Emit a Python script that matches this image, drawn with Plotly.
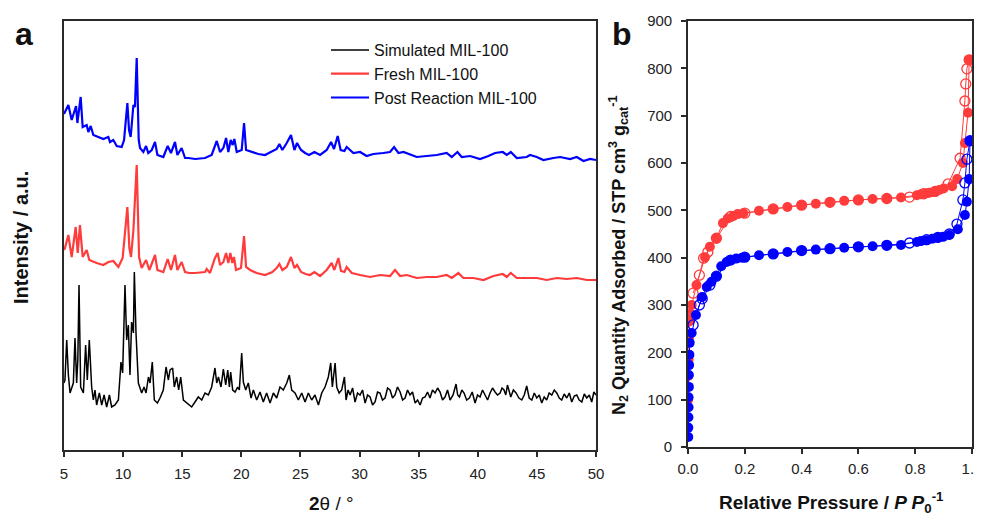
import plotly.graph_objects as go

# ---- panel a : XRD patterns (2theta, intensity in arbitrary units) ----
sim_2t = [5.0, 5.08, 5.23, 5.37, 5.51, 5.65, 5.79, 5.93, 6.07, 6.17, 6.27, 6.41, 6.52, 6.64, 6.83, 6.97, 7.14, 7.34,
          7.48, 7.62, 7.76, 7.99, 8.19, 8.39, 8.61, 8.84, 9.03, 9.31, 9.6, 9.82, 9.96, 10.16, 10.3, 10.44, 10.58,
          10.72, 10.87, 10.95, 11.09, 11.29, 11.57, 11.77, 11.94, 12.14, 12.28, 12.47, 12.64, 12.9, 13.12, 13.4,
          13.63, 13.83, 13.97, 14.19, 14.33, 14.53, 14.7, 14.87, 15.1, 15.38, 15.8, 16.08, 16.36, 16.65, 16.93,
          17.21, 17.49, 17.77, 17.92, 18.06, 18.28, 18.48, 18.68, 18.85, 18.99, 19.1, 19.27, 19.47, 19.69, 19.83,
          20.03, 20.17, 20.37, 20.59, 20.82, 21.02, 21.3, 21.58, 21.86, 22.14, 22.43, 22.71, 22.99, 23.27, 23.55,
          23.84, 24.06, 24.26, 24.54, 24.82, 25.11, 25.39, 25.67, 25.95, 26.23, 26.52, 26.8, 27.08, 27.36, 27.56,
          27.7, 27.93, 28.07, 28.27, 28.49, 28.72, 28.86, 29.03, 29.2, 29.41, 29.62, 29.83, 30.04, 30.25, 30.47,
          30.68, 30.89, 31.1, 31.31, 31.52, 31.73, 31.94, 32.16, 32.37, 32.58, 32.79, 33.0, 33.21, 33.43, 33.64,
          33.85, 34.06, 34.27, 34.48, 34.7, 34.91, 35.12, 35.33, 35.54, 35.75, 35.96, 36.17, 36.39, 36.6, 36.81,
          37.02, 37.23, 37.44, 37.66, 37.91, 38.16, 38.3, 38.45, 38.65, 38.84, 39.06, 39.29, 39.53, 39.77, 39.98,
          40.19, 40.4, 40.62, 40.83, 41.04, 41.25, 41.46, 41.67, 41.89, 42.05, 42.22, 42.37, 42.51, 42.65, 42.79,
          43.01, 43.24, 43.48, 43.72, 43.93, 44.14, 44.35, 44.57, 44.78, 44.99, 45.2, 45.41, 45.62, 45.83, 46.04,
          46.26, 46.47, 46.68, 46.89, 47.1, 47.31, 47.53, 47.74, 47.95, 48.16, 48.37, 48.58, 48.8, 49.01, 49.22,
          49.43, 49.64, 49.82, 50.0]
sim_int = [67, 70, 110, 75, 57, 62, 67, 112, 67, 90, 165, 63, 60, 57, 105, 70, 110, 63,
           50, 60, 45, 57, 45, 55, 43, 55, 43, 45, 50, 88, 77, 165, 110, 125, 75,
           128, 117, 178, 117, 67, 57, 63, 57, 73, 67, 88, 50, 47, 52, 60,
           83, 70, 80, 82, 63, 73, 60, 73, 50, 47, 43, 48, 53, 50, 57,
           55, 63, 82, 67, 73, 63, 81, 65, 80, 63, 78, 60, 58, 63, 60,
           97, 68, 60, 67, 52, 60, 50, 58, 48, 57, 47, 57, 52, 63, 60,
           67, 75, 60, 57, 50, 57, 48, 57, 50, 55, 45, 57, 63, 73, 87,
           63, 87, 63, 57, 60, 73, 50, 60, 55, 62, 48, 57, 55, 60, 47,
           55, 53, 45, 48, 58, 57, 50, 52, 62, 60, 52, 55, 63, 58, 50,
           52, 60, 55, 58, 47, 50, 45, 52, 53, 58, 52, 60, 57, 62, 58,
           50, 53, 60, 50, 55, 66, 55, 53, 60, 57, 50, 52, 58, 47, 55,
           53, 60, 55, 50, 57, 62, 58, 55, 57, 62, 60, 55, 65, 58, 53,
           60, 57, 52, 50, 55, 64, 52, 50, 57, 52, 55, 47, 53, 50, 57,
           55, 60, 57, 52, 50, 56, 52, 57, 48, 54, 55, 50, 48, 56, 52,
           55, 48, 58, 55]

fresh_2t = [5.0, 5.08, 5.37, 5.65, 5.99, 6.16, 6.35, 6.58, 6.92, 7.14, 7.76, 8.33, 8.75, 9.17, 9.6, 9.96, 10.36,
            10.53, 10.67, 10.87, 11.15, 11.35, 11.57, 11.94, 12.22, 12.7, 12.9, 13.4, 13.77, 14.05, 14.39, 14.59,
            14.95, 15.24, 15.6, 16.08, 16.93, 17.07, 17.35, 17.77, 18.0, 18.2, 18.48, 18.71, 18.9, 19.07, 19.24,
            19.38, 19.55, 19.97, 20.23, 20.4, 20.74, 21.3, 22.0, 22.62, 22.99, 23.22, 23.47, 23.84, 24.2, 24.49,
            24.71, 25.05, 25.44, 25.81, 26.18, 26.66, 27.22, 27.64, 27.87, 28.21, 28.43, 28.72, 28.91, 29.34,
            30.04, 30.89, 31.73, 32.58, 33.0, 33.43, 33.99, 34.84, 35.68, 36.53, 37.37, 37.8, 38.36, 38.78, 39.63,
            40.48, 41.32, 42.11, 42.45, 42.79, 43.3, 44.14, 44.99, 45.83, 46.68, 47.53, 48.37, 49.22, 50.0]
fresh_int = [200, 202, 215, 193, 223, 197, 225, 193, 200, 190, 187, 185, 188, 189, 183, 192, 243,
             202, 193, 220, 285, 193, 182, 190, 180, 195, 180, 178, 191, 180, 195, 180,
             188, 178, 177, 177, 178, 181, 177, 192, 197, 185, 188, 197, 187, 197, 187,
             193, 180, 182, 214, 183, 180, 177, 175, 178, 182, 186, 180, 183, 193, 182,
             185, 178, 176, 175, 178, 174, 180, 187, 180, 192, 179, 178, 183, 177,
             175, 173, 175, 174, 180, 174, 175, 172, 173, 173, 175, 172, 177, 172, 172,
             170, 174, 176, 173, 177, 172, 172, 172, 170, 172, 171, 172, 170, 170]

post_2t = [5.0, 5.08, 5.37, 5.65, 6.02, 6.13, 6.41, 6.58, 6.92, 7.06, 7.26, 7.48, 7.9, 8.33, 8.75, 8.89, 9.17, 9.46,
           9.88, 10.08, 10.36, 10.5, 10.64, 10.87, 11.0, 11.15, 11.32, 11.43, 11.71, 11.94, 12.13, 12.42, 12.7,
           12.9, 13.4, 13.77, 14.05, 14.39, 14.59, 14.95, 15.24, 15.52, 16.1, 16.93, 17.49, 17.92, 18.2, 18.48,
           18.71, 18.9, 19.1, 19.27, 19.41, 19.61, 20.03, 20.23, 20.4, 20.88, 21.44, 22.0, 22.57, 22.99, 23.22,
           23.47, 23.84, 24.2, 24.49, 24.71, 25.05, 25.39, 25.73, 26.18, 26.66, 27.22, 27.59, 27.84, 28.15, 28.4,
           28.72, 28.91, 29.48, 30.04, 30.6, 31.17, 32.0, 32.58, 32.92, 33.29, 33.71, 34.13, 34.84, 35.68, 36.53,
           37.37, 37.8, 38.28, 38.64, 39.35, 40.19, 40.9, 41.46, 42.11, 42.45, 42.79, 43.3, 44.14, 44.42, 44.99,
           45.55, 46.4, 46.96, 47.81, 48.37, 48.94, 49.5, 50.0]
post_int = [336, 338, 345, 330, 344, 327, 353, 323, 325, 318, 324, 315, 313, 311, 313, 308, 310, 304,
            303, 310, 347, 320, 313, 345, 343, 392, 310, 302, 298, 304, 297, 300, 308,
            295, 293, 304, 297, 308, 295, 302, 292, 292, 291, 292, 295, 309, 298, 302,
            312, 298, 310, 305, 311, 298, 300, 327, 300, 298, 296, 295, 298, 301, 306,
            300, 307, 315, 300, 307, 300, 297, 295, 298, 295, 300, 308, 301, 314, 300,
            299, 303, 297, 298, 294, 296, 297, 298, 303, 297, 298, 296, 293, 294, 295,
            297, 293, 298, 293, 294, 291, 294, 297, 298, 295, 298, 292, 293, 295, 293,
            290, 292, 293, 291, 293, 289, 291, 290]

# ---- panel b : N2 isotherms (relative pressure, cm3 STP g-1) ----
fresh_ads_p = [0.0005, 0.001, 0.002, 0.003, 0.005, 0.008, 0.013, 0.03, 0.06, 0.077, 0.1, 0.123, 0.14, 0.16, 0.175,
               0.195, 0.25, 0.3, 0.35, 0.4, 0.45, 0.5, 0.55, 0.6, 0.65, 0.7, 0.75, 0.806, 0.82, 0.84, 0.85, 0.87,
               0.885, 0.9, 0.93, 0.948, 0.968, 0.975, 0.986, 0.99]
fresh_ads_v = [100, 150, 185, 230, 265, 282, 300, 342, 401, 423, 441, 473, 483, 488, 492,
               494, 499, 503, 507, 511, 514, 517, 520, 522, 524, 525, 527, 532, 534, 536, 537, 539,
               543, 546, 551, 566, 600, 642, 706, 818]
fresh_des_p = [0.99, 0.982, 0.978, 0.975, 0.958, 0.916, 0.87, 0.83, 0.78, 0.7, 0.6, 0.5, 0.4, 0.3, 0.2, 0.15,
               0.1, 0.07, 0.055, 0.04, 0.018]
fresh_des_v = [818, 799, 767, 731, 610, 556, 540, 535, 528, 525, 522, 517, 511, 503, 494, 487,
               441, 412, 399, 363, 325]

post_ads_p = [0.001, 0.001, 0.0015, 0.002, 0.002, 0.003, 0.003, 0.004, 0.005, 0.006, 0.013, 0.028, 0.05, 0.066,
              0.083, 0.1, 0.117, 0.136, 0.15, 0.17, 0.19, 0.2, 0.25, 0.3, 0.35, 0.4, 0.45, 0.5, 0.55, 0.6, 0.65,
              0.7, 0.75, 0.806, 0.82, 0.84, 0.86, 0.88, 0.898, 0.92, 0.95, 0.975, 0.982, 0.99, 0.993]
post_ads_v = [21, 41, 63, 84, 105, 127, 152, 173, 195, 220, 241, 279, 317, 338,
              349, 361, 382, 391, 395, 398, 400, 401, 405, 408, 412, 415, 417, 419, 421, 423, 424,
              426, 427, 433, 435, 437, 440, 442, 444, 448, 460, 490, 518, 566, 647]
post_des_p = [0.993, 0.982, 0.975, 0.968, 0.947, 0.92, 0.88, 0.84, 0.78, 0.7, 0.6, 0.5, 0.4, 0.3, 0.2, 0.15,
              0.1, 0.077, 0.05, 0.04, 0.018]
post_des_v = [647, 608, 558, 522, 471, 450, 443, 438, 431, 426, 423, 419, 415, 408, 401, 395,
              361, 342, 313, 300, 258]

p_ticks = [0.0, 0.2, 0.4, 0.6, 0.8, 1.0]

RED = '#FF3B3B'
BLUE = '#0000FF'
AX = '#2a2a2a'
FONT = 'Arial, Liberation Sans, sans-serif'

fig = go.Figure()

# panel a
fig.add_trace(go.Scatter(x=sim_2t, y=sim_int, mode='lines', name='Simulated MIL-100',
                         line=dict(color='black', width=1.5), xaxis='x', yaxis='y'))
fig.add_trace(go.Scatter(x=fresh_2t, y=fresh_int, mode='lines', name='Fresh MIL-100',
                         line=dict(color=RED, width=2.2), xaxis='x', yaxis='y'))
fig.add_trace(go.Scatter(x=post_2t, y=post_int, mode='lines', name='Post Reaction MIL-100',
                         line=dict(color=BLUE, width=2.2), xaxis='x', yaxis='y'))

# panel b
mk_open = dict(symbol='circle-open', size=10, line=dict(width=1.3))
fig.add_trace(go.Scatter(x=fresh_des_p, y=fresh_des_v, mode='lines+markers', showlegend=False,
                         line=dict(color=RED, width=1), marker=dict(color=RED, **mk_open),
                         xaxis='x2', yaxis='y2'))
fig.add_trace(go.Scatter(x=fresh_ads_p, y=fresh_ads_v, mode='lines+markers', showlegend=False,
                         line=dict(color=RED, width=1), marker=dict(color=RED, size=10, symbol='circle'),
                         xaxis='x2', yaxis='y2'))
fig.add_trace(go.Scatter(x=post_des_p, y=post_des_v, mode='lines+markers', showlegend=False,
                         line=dict(color=BLUE, width=1), marker=dict(color=BLUE, **mk_open),
                         xaxis='x2', yaxis='y2'))
fig.add_trace(go.Scatter(x=post_ads_p, y=post_ads_v, mode='lines+markers', showlegend=False,
                         line=dict(color=BLUE, width=1), marker=dict(color=BLUE, size=10, symbol='circle'),
                         xaxis='x2', yaxis='y2'))

# the page body adds an 8px margin, so the figure is drawn 8px smaller and shifted
OFF = 8
W, H = 982 - OFF, 516 - OFF

def px(x):
    return (x - OFF) / W

def py(y):
    return 1 - (y - OFF) / H

axis_common = dict(showline=True, linecolor=AX, linewidth=1.6, mirror=True, showgrid=False, zeroline=False,
                   tickfont=dict(family=FONT, size=15, color='#222'), ticks='outside', tickcolor=AX,
                   tickwidth=1.6, ticklen=5, automargin=False, ticklabeloverflow='allow')

fig.update_layout(
    width=W, height=H,
    margin=dict(l=0, r=0, t=0, b=0),
    paper_bgcolor='white', plot_bgcolor='white',
    font=dict(family=FONT, color='#111'),
    xaxis=dict(axis_common, domain=[px(64), px(596)], range=[5, 50], dtick=5, anchor='y',
               ticklabelstandoff=4),
    yaxis=dict(axis_common, domain=[py(450), py(21)], range=[0, 429], ticks='', showticklabels=False,
               anchor='x'),
    xaxis2=dict(axis_common, domain=[px(688), px(972)], range=[0, 1.0], tickmode='array', tickvals=p_ticks,
                ticktext=['%.1f' % t for t in p_ticks], anchor='y2', ticklabelstandoff=2),
    yaxis2=dict(axis_common, domain=[py(447), py(21)], range=[0, 900], dtick=100, anchor='x2',
                ticklabelstandoff=6),
    legend=dict(x=px(326), y=py(33), xanchor='left', yanchor='top', bgcolor='rgba(0,0,0,0)',
                font=dict(family=FONT, size=16, color='#111'), tracegroupgap=0, itemwidth=38),
    showlegend=True,
)

annotations = [
    dict(text='<b>a</b>', x=px(24), y=py(34), font=dict(size=32)),
    dict(text='<b>b</b>', x=px(622), y=py(34), font=dict(size=32)),
    dict(text='<b>Intensity / a.u.</b>', x=px(21), y=py(238), textangle=-90, font=dict(size=20)),
    dict(text='<b>2</b>θ / °', x=px(331), y=py(503), font=dict(size=19)),
    dict(text='<b>N<sub>2</sub> Quantity Adsorbed / STP cm<sup>3</sup> g<sub>cat</sub><sup>-1</sup></b>',
         x=px(618), y=py(256), textangle=-90, font=dict(size=18)),
    dict(text='<b>Relative Pressure / <i>P P</i><sub>0</sub><sup>-1</sup></b>', x=px(831), y=py(502),
         font=dict(size=19)),
]
for a in annotations:
    a.update(xref='paper', yref='paper', showarrow=False, xanchor='center', yanchor='middle')
    a['font'] = dict(family=FONT, color='#111', **a['font'])
fig.update_layout(annotations=annotations)

fig.write_html("out.html")
